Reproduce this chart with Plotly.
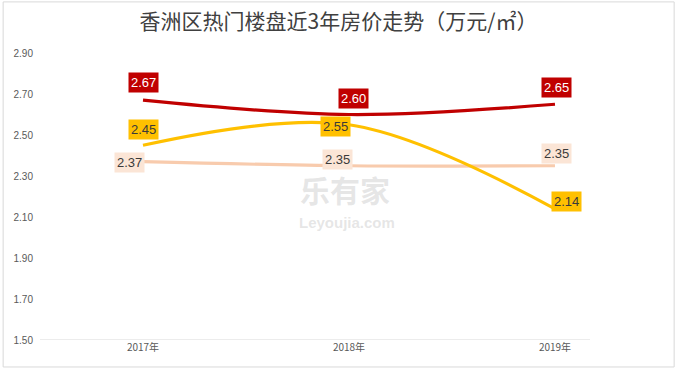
import plotly.graph_objects as go

years = ["2017年", "2018年", "2019年"]
red_vals = [2.67, 2.60, 2.65]
yellow_vals = [2.45, 2.55, 2.14]
peach_vals = [2.37, 2.35, 2.35]
y_ticks = [1.50, 1.70, 1.90, 2.10, 2.30, 2.50, 2.70, 2.90]
title_text = "香洲区热门楼盘近3年房价走势（万元/㎡）"

fig = go.Figure()
series = [
    (peach_vals, "#F8CBAD"),
    (yellow_vals, "#FFC000"),
    (red_vals, "#C00000"),
]
for vals, col in series:
    fig.add_trace(go.Scatter(
        x=[0, 1, 2], y=vals, mode="lines",
        line=dict(color=col, width=3.2, shape="spline", smoothing=1.0),
        hoverinfo="skip", showlegend=False))

# watermark (drawn first so labels sit on top)
fig.add_annotation(x=0.5, y=0.5, xref="paper", yref="paper", text="<b>乐有家</b>",
                   showarrow=False, yshift=8, xshift=30,
                   font=dict(family="Noto Sans CJK SC", size=30, color="rgba(200,200,200,0.45)"))
fig.add_annotation(x=0.5, y=0.5, xref="paper", yref="paper", text="<b>Leyoujia.com</b>",
                   showarrow=False, yshift=-26, xshift=32,
                   font=dict(family="Liberation Sans", size=15, color="rgba(200,200,200,0.45)"))

label_specs = [
    (red_vals, "#C00000", "white", [(0, 18), (5, 16), (2, 17)]),
    (yellow_vals, "#FFC000", "#3a3a3a", [(0, 16), (-13, -2), (12, 7)]),
    (peach_vals, "#FBE5D6", "#3a3a3a", [(-14, -1), (-11, 6), (2, 12)]),
]
for vals, bg, fc, shifts in label_specs:
    for i, v in enumerate(vals):
        fig.add_annotation(
            x=i, y=v, xref="x", yref="y", text=f"{v:.2f}", showarrow=False,
            xshift=shifts[i][0], yshift=shifts[i][1],
            bgcolor=bg, font=dict(family="Liberation Sans, Arial", size=13, color=fc),
            borderpad=2)

fig.update_layout(
    width=677, height=369,
    margin=dict(l=40, r=87, t=53, b=29, autoexpand=False),
    paper_bgcolor="white", plot_bgcolor="white",
    title=dict(text=title_text, x=0.5, xanchor="center", y=1 - 22 / 369, yanchor="middle",
               xref="container", yref="container",
               font=dict(family="Noto Sans CJK SC", size=21, color="#404040")),
    xaxis=dict(range=[-0.5, 2.17], tickmode="array", tickvals=[0, 1, 2], ticktext=years,
               showgrid=False, zeroline=False, showline=False, automargin=False,
               tickfont=dict(family="Noto Sans CJK SC", size=10, color="#595959"),
               ticks=""),
    yaxis=dict(range=[1.5, 2.9], tickmode="array", tickvals=y_ticks,
               ticktext=[f"{t:.2f}" for t in y_ticks], showgrid=False, zeroline=False,
               showline=False, automargin=False, ticklabelstandoff=6,
               tickfont=dict(family="Liberation Sans, Arial", size=10, color="#595959"),
               ticks=""),
)
# x axis baseline
fig.add_shape(type="line", xref="paper", yref="y", x0=0, x1=1, y0=1.5, y1=1.5,
              line=dict(color="#D9D9D9", width=1))
# outer frame
fig.add_shape(type="rect", xref="paper", yref="paper", x0=-0.067, x1=1.153, y0=-0.094, y1=1.178,
              line=dict(color="#D9D9D9", width=1))
fig.write_html("out.html", config={"displayModeBar": False},
               post_script="document.body.style.margin='0';")
